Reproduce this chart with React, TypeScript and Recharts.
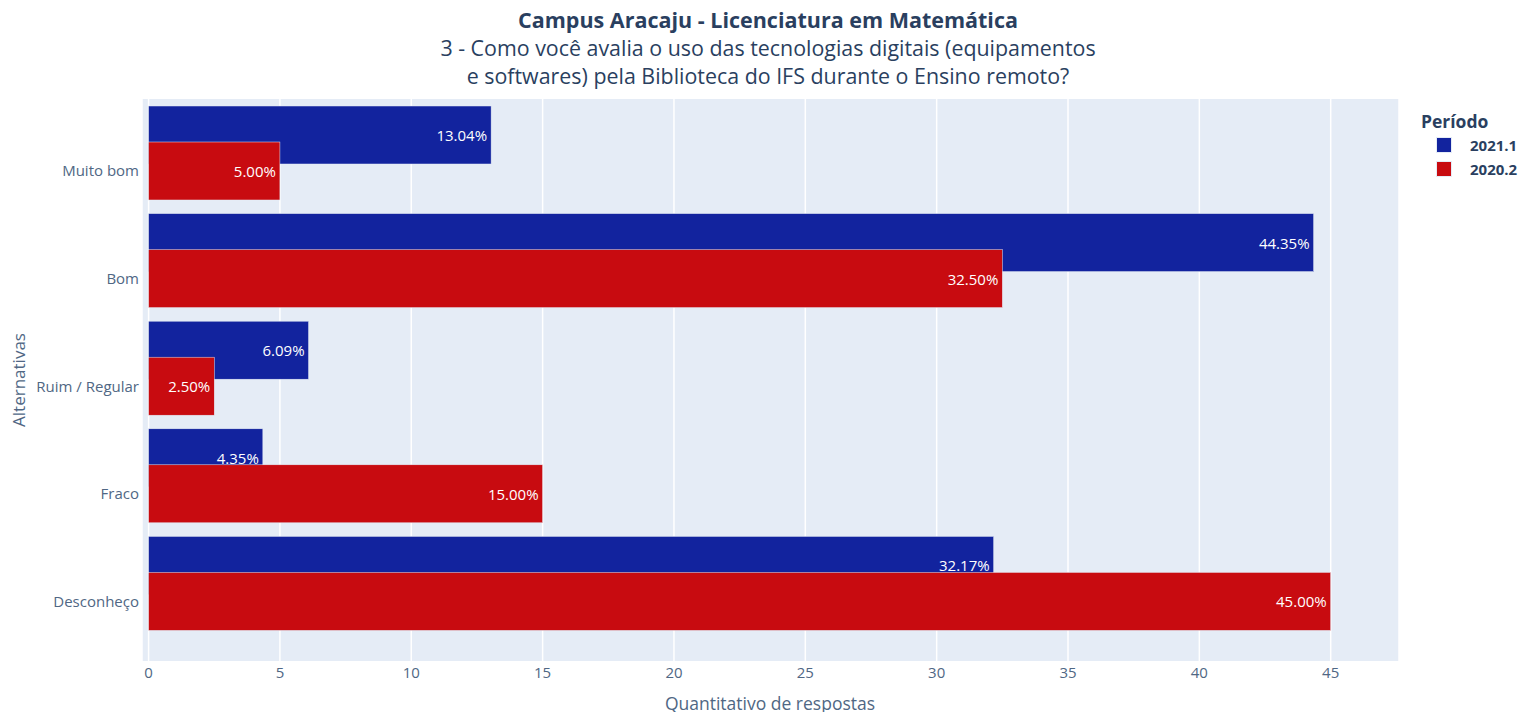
import React from 'react';
import { BarChart, Bar, XAxis, YAxis, CartesianGrid } from 'recharts';

// Dados
const categorias = ['Muito bom', 'Bom', 'Ruim / Regular', 'Fraco', 'Desconheço'];
const periodo2021_1 = [13.04, 44.35, 6.09, 4.35, 32.17];
const periodo2020_2 = [5.0, 32.5, 2.5, 15.0, 45.0];
const xTicks = [0, 5, 10, 15, 20, 25, 30, 35, 40, 45];

const colors = {
  azul: '#12239e',
  vermelho: '#c80b10',
  plotBg: '#e5ecf6',
  grid: '#ffffff',
  texto: '#2a3f5f',
  tick: '#506784',
};

const FONT = '"Open Sans", sans-serif';

const chartData = categorias.map((name, i) => ({
  name,
  p2021: periodo2021_1[i],
  p2020: periodo2020_2[i],
}));

// Barra com o texto dentro, para que a barra seguinte cubra o texto
function BarWithText(props: any) {
  const { x, y, width, height, fill, value } = props;
  if (width == null || height == null) return null;
  const v = Array.isArray(value) ? value[1] - value[0] : value;
  return (
    <g>
      <rect x={x} y={y} width={width} height={height} fill={fill} stroke={colors.plotBg} strokeWidth={0.5} />
      <text
        x={x + width - 4}
        y={y + height / 2}
        textAnchor="end"
        dominantBaseline="central"
        fill="#ffffff"
        fontSize={15}
        fontFamily={FONT}
      >
        {Number(v).toFixed(2)}%
      </text>
    </g>
  );
}

function CategoryTick(props: any) {
  const { x, y, payload } = props;
  return (
    <text
      x={x}
      y={y + 17.5}
      textAnchor="end"
      dominantBaseline="central"
      fill={colors.tick}
      fontSize={15}
      fontFamily={FONT}
    >
      {payload.value}
    </text>
  );
}

export default function App() {
  return (
    <div style={{ position: 'absolute', left: 0, top: 0, width: 1518, height: 712, background: '#fff', fontFamily: FONT }}>
      {/* Título */}
      <div style={{ position: 'absolute', left: 0, width: 1536, top: 6, textAlign: 'center', color: colors.texto }}>
        <div style={{ fontSize: 21.5, fontWeight: 700, lineHeight: '28px' }}>Campus Aracaju - Licenciatura em Matemática</div>
        <div style={{ fontSize: 21.4, lineHeight: '28px' }}>
          3 - Como você avalia o uso das tecnologias digitais (equipamentos
          <br />e softwares) pela Biblioteca do IFS durante o Ensino remoto?
        </div>
      </div>

      <BarChart
        width={1518}
        height={712}
        data={chartData}
        layout="vertical"
        margin={{ top: 99, right: 119, bottom: 21, left: 0 }}
        barSize={58}
        barGap={-22}
      >
        <CartesianGrid fill={colors.plotBg} stroke={colors.grid} strokeWidth={1.5} horizontal={false} />
        <XAxis
          type="number"
          domain={[-0.25, 47.6]}
          ticks={xTicks}
          allowDataOverflow
          axisLine={false}
          tickLine={false}
          tickSize={0}
          tickMargin={6}
          height={30}
          tick={{ fill: colors.tick, fontSize: 15, fontFamily: FONT }}
        />
        <YAxis
          type="category"
          dataKey="name"
          width={142}
          axisLine={false}
          tickLine={false}
          tickSize={0}
          tickMargin={3}
          padding={{ top: 0, bottom: 24 }}
          tick={<CategoryTick />}
        />
        <Bar dataKey="p2021" name="2021.1" fill={colors.azul} shape={<BarWithText />} isAnimationActive={false} />
        <Bar dataKey="p2020" name="2020.2" fill={colors.vermelho} shape={<BarWithText />} isAnimationActive={false} />
      </BarChart>

      {/* Títulos dos eixos */}
      <div style={{ position: 'absolute', left: 0, width: 1540, top: 691, textAlign: 'center', fontSize: 17.5, color: colors.tick }}>
        Quantitativo de respostas
      </div>
      <div
        style={{
          position: 'absolute',
          left: 18,
          top: 380,
          transform: 'translate(-50%, -50%) rotate(-90deg)',
          fontSize: 17,
          color: colors.tick,
          whiteSpace: 'nowrap',
        }}
      >
        Alternativas
      </div>

      {/* Legenda */}
      <div style={{ position: 'absolute', left: 1421, top: 109, color: colors.texto }}>
        <div style={{ fontSize: 17.5, fontWeight: 700, lineHeight: '24px' }}>Período</div>
        {[
          { label: '2021.1', color: colors.azul },
          { label: '2020.2', color: colors.vermelho },
        ].map((item) => (
          <div key={item.label} style={{ display: 'flex', alignItems: 'center', height: 24, fontSize: 15, fontWeight: 700 }}>
            <div style={{ width: 14, height: 14, marginLeft: 15, marginRight: 18, background: item.color, border: '0.5px solid #e5ecf6' }} />
            <span>{item.label}</span>
          </div>
        ))}
      </div>
    </div>
  );
}
